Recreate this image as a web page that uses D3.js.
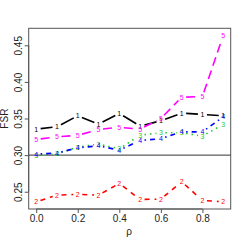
<!DOCTYPE html>
<html>
<head>
<meta charset="utf-8">
<script src="https://cdn.jsdelivr.net/npm/d3@7"></script>
<style>
  body { margin: 0; background: #fff; }
  text { font-family: "Liberation Sans", Arial, sans-serif; }
</style>
</head>
<body>
<svg id="chart" width="245" height="245"></svg>
<script>
// rho values on the x axis
const rho = [0.0, 0.1, 0.2, 0.3, 0.4, 0.5, 0.6, 0.7, 0.8, 0.9];

// FSR for each method (labelled 1..5 in the plot)
const fsr1 = [0.3355, 0.3387, 0.3537, 0.3423, 0.3570, 0.3396, 0.3469, 0.3574, 0.3556, 0.3537];
const fsr2 = [0.2362, 0.2454, 0.2463, 0.2454, 0.2613, 0.2395, 0.2399, 0.2636, 0.2381, 0.2362];
const fsr3 = [0.2995, 0.3018, 0.3110, 0.3150, 0.3086, 0.3273, 0.3305, 0.3305, 0.3260, 0.3420];
const fsr4 = [0.3014, 0.3027, 0.3100, 0.3127, 0.3068, 0.3200, 0.3223, 0.3318, 0.3318, 0.3523];
const fsr5 = [0.3214, 0.3250, 0.3270, 0.3350, 0.3380, 0.3355, 0.3500, 0.3790, 0.3800, 0.4635];

const xTicks = [0.0, 0.2, 0.4, 0.6, 0.8];
const yTicks = [0.25, 0.30, 0.35, 0.40, 0.45];
const refLine = 0.30;

const series = [
    {label: "1", values: fsr1, color: "#000000", dash: null},
    {label: "2", values: fsr2, color: "#ff0000", dash: "5,5"},
    {label: "3", values: fsr3, color: "#22cc22", dash: "1.5,4"},
    {label: "4", values: fsr4, color: "#0000ff", dash: "1.5,4,5,4"},
    {label: "5", values: fsr5, color: "#ff00ff", dash: "9,5"}
];

const svg = d3.select("#chart");
const mLeft = 28.7, mRight = 230.7, mTop = 28.3, mBottom = 209;

const x = d3.scaleLinear().domain([-0.036, 0.936]).range([mLeft, mRight]);
const y = d3.scaleLinear().domain([0.2264, 0.4732]).range([mBottom, mTop]);

// plot box
svg.append("rect")
    .attr("x", mLeft).attr("y", mTop)
    .attr("width", mRight - mLeft).attr("height", mBottom - mTop)
    .attr("fill", "none").attr("stroke", "#555").attr("stroke-width", 1);

// horizontal reference line
svg.append("line")
    .attr("x1", mLeft).attr("x2", mRight)
    .attr("y1", y(refLine)).attr("y2", y(refLine))
    .attr("stroke", "#333").attr("stroke-width", 1);

// x axis
const xAxis = d3.axisBottom(x).tickValues(xTicks).tickFormat(d3.format(".1f")).tickSize(4).tickPadding(2);
const gx = svg.append("g").attr("transform", `translate(0,${mBottom})`).call(xAxis);
gx.select(".domain").attr("d", `M${x(0)},0H${x(0.8)}`).attr("stroke", "#555");
gx.selectAll(".tick line").attr("stroke", "#555");
gx.selectAll("text").attr("font-size", 10).attr("fill", "#222")
    .attr("font-family", "Liberation Sans, Arial, sans-serif");

// y axis with rotated labels
const yAxis = d3.axisLeft(y).tickValues(yTicks).tickFormat(d3.format(".2f")).tickSize(4);
const gy = svg.append("g").attr("transform", `translate(${mLeft},0)`).call(yAxis);
gy.select(".domain").attr("d", `M0,${y(0.25)}V${y(0.45)}`).attr("stroke", "#555");
gy.selectAll(".tick line").attr("stroke", "#555");
gy.selectAll(".tick text")
    .attr("x", 0).attr("y", 0).attr("dy", 0)
    .attr("text-anchor", "middle")
    .attr("transform", "translate(-6.5,0) rotate(-90)")
    .attr("font-size", 10).attr("fill", "#222")
    .attr("font-family", "Liberation Sans, Arial, sans-serif");

// axis titles
svg.append("text")
    .attr("x", 129).attr("y", 235)
    .attr("text-anchor", "middle").attr("font-size", 10).attr("fill", "#222")
    .text("ρ");
svg.append("text")
    .attr("transform", `translate(8,${(mTop + mBottom) / 2}) rotate(-90)`)
    .attr("text-anchor", "middle").attr("font-size", 10).attr("fill", "#222")
    .text("FSR");

// lines with gaps around the point labels (like R type="b")
const gap = 4.5;
series.forEach(function (s) {
    const pts = rho.map((r, i) => [x(r), y(s.values[i])]);
    const g = svg.append("g");
    for (let i = 0; i < pts.length - 1; i++) {
        const [x0, y0] = pts[i], [x1, y1] = pts[i + 1];
        const len = Math.hypot(x1 - x0, y1 - y0);
        if (len <= 2 * gap) continue;
        const ux = (x1 - x0) / len, uy = (y1 - y0) / len;
        g.append("line")
            .attr("x1", x0 + ux * gap).attr("y1", y0 + uy * gap)
            .attr("x2", x1 - ux * gap).attr("y2", y1 - uy * gap)
            .attr("stroke", s.color)
            .attr("stroke-width", 1.6)
            .attr("stroke-dasharray", s.dash);
    }
    g.selectAll("text")
        .data(pts)
        .enter()
        .append("text")
        .attr("x", d => d[0])
        .attr("y", d => d[1])
        .attr("dy", "0.35em")
        .attr("text-anchor", "middle")
        .attr("font-size", 7)
        .attr("fill", s.color)
        .text(s.label);
});
</script>
</body>
</html>
